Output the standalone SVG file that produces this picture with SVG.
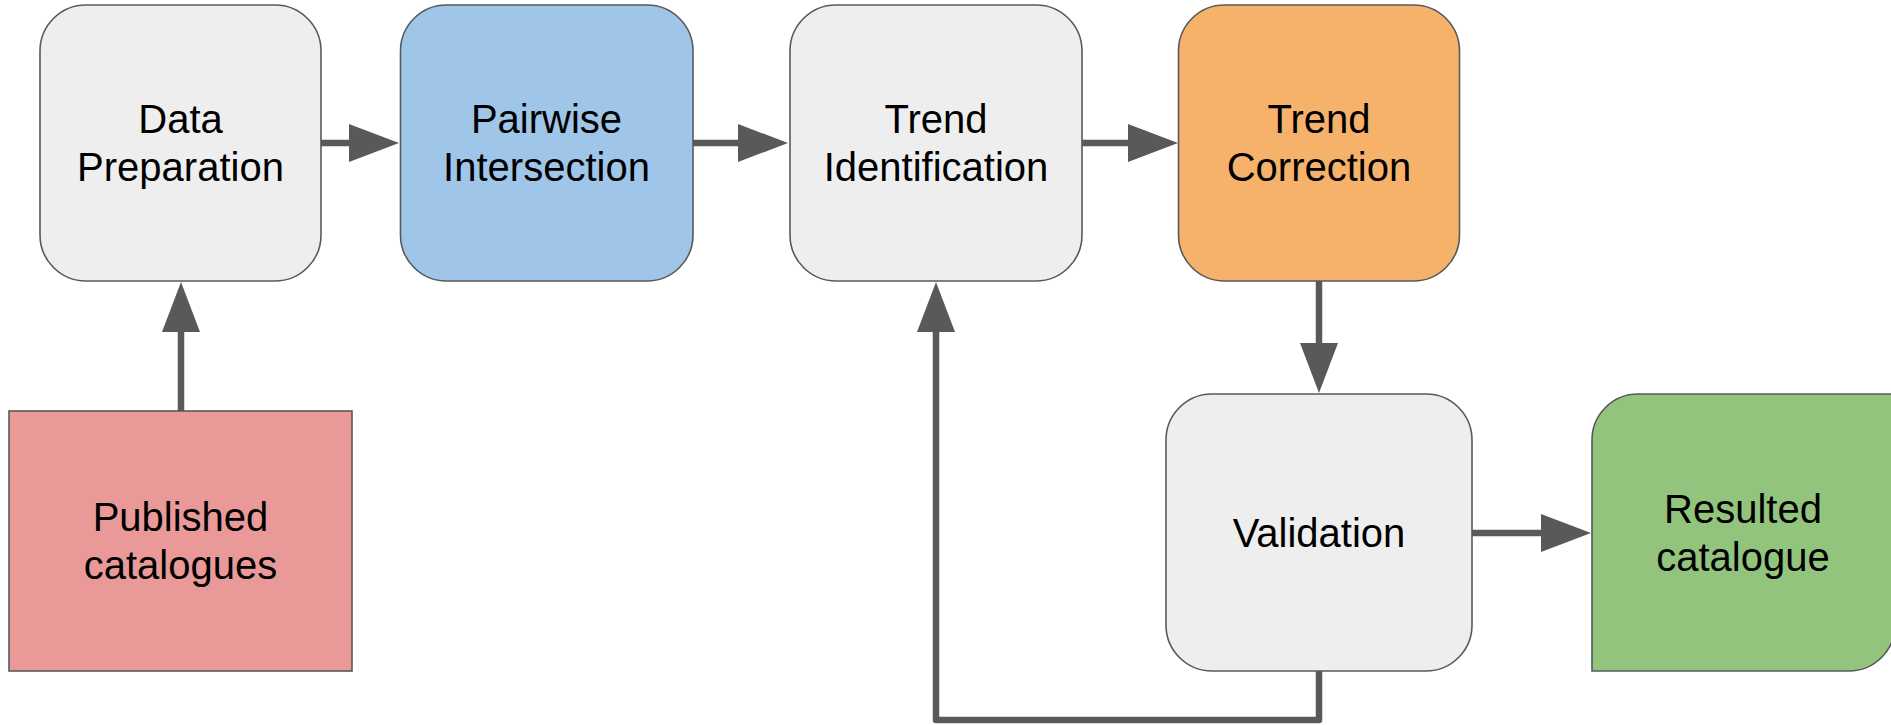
<svg xmlns="http://www.w3.org/2000/svg" width="1891" height="725" viewBox="0 0 1891 725">
<style>
.box{stroke:#595959;stroke-width:1.6}
.gray{fill:#eeeeee}
.blue{fill:#9fc5e8}
.orange{fill:#f6b26b}
.red{fill:#ea9999}
.green{fill:#93c47d}
.lbl{font-family:"Liberation Sans",Arial,sans-serif;font-size:40px;fill:#000;text-anchor:middle}
.conn{fill:none;stroke:#595959;stroke-width:6.5;stroke-linejoin:round}
</style>
<defs>
<marker id="ah" markerUnits="userSpaceOnUse" markerWidth="51" markerHeight="38" refX="0" refY="19" orient="auto" overflow="visible">
<path d="M0,0 L50,19 L0,38 Z" fill="#595959"/>
</marker>
</defs>
<rect width="1891" height="725" fill="#ffffff"/>
<g id="connectors">
<path class="conn" d="M321,143 L349,143" marker-end="url(#ah)"/>
<path class="conn" d="M693,143 L738,143" marker-end="url(#ah)"/>
<path class="conn" d="M1082,143 L1128,143" marker-end="url(#ah)"/>
<path class="conn" d="M181,411 L181,332" marker-end="url(#ah)"/>
<path class="conn" d="M1319,281 L1319,343" marker-end="url(#ah)"/>
<path class="conn" d="M1472,533 L1541,533" marker-end="url(#ah)"/>
<path class="conn" d="M1319,671 L1319,720 L936,720 L936,332" marker-end="url(#ah)"/>
</g>
<g id="data-preparation">
<rect class="box gray" x="40" y="5" width="281" height="276" rx="46" ry="46"/>
<text class="lbl" x="180.5" y="133">Data</text>
<text class="lbl" x="180.5" y="181">Preparation</text>
</g>
<g id="pairwise-intersection">
<rect class="box blue" x="400.5" y="5" width="292.5" height="276" rx="46" ry="46"/>
<text class="lbl" x="546.5" y="133">Pairwise</text>
<text class="lbl" x="546.5" y="181">Intersection</text>
</g>
<g id="trend-identification">
<rect class="box gray" x="790" y="5" width="292" height="276" rx="46" ry="46"/>
<text class="lbl" x="936" y="133">Trend</text>
<text class="lbl" x="936" y="181">Identification</text>
</g>
<g id="trend-correction">
<rect class="box orange" x="1178.5" y="5" width="281" height="276" rx="46" ry="46"/>
<text class="lbl" x="1319" y="133">Trend</text>
<text class="lbl" x="1319" y="181">Correction</text>
</g>
<g id="published-catalogues">
<rect class="box red" x="9" y="411" width="343" height="260"/>
<text class="lbl" x="180.5" y="531">Published</text>
<text class="lbl" x="180.5" y="579">catalogues</text>
</g>
<g id="validation">
<rect class="box gray" x="1166" y="394" width="306" height="277" rx="46" ry="46"/>
<text class="lbl" x="1319" y="547">Validation</text>
</g>
<g id="resulted-catalogue">
<path class="box green" d="M1592,671 L1592,440 A46,46 0 0 1 1638,394 L1895,394 L1895,625 A46,46 0 0 1 1849,671 Z"/>
<text class="lbl" x="1743" y="523">Resulted</text>
<text class="lbl" x="1743" y="571">catalogue</text>
</g>
</svg>
